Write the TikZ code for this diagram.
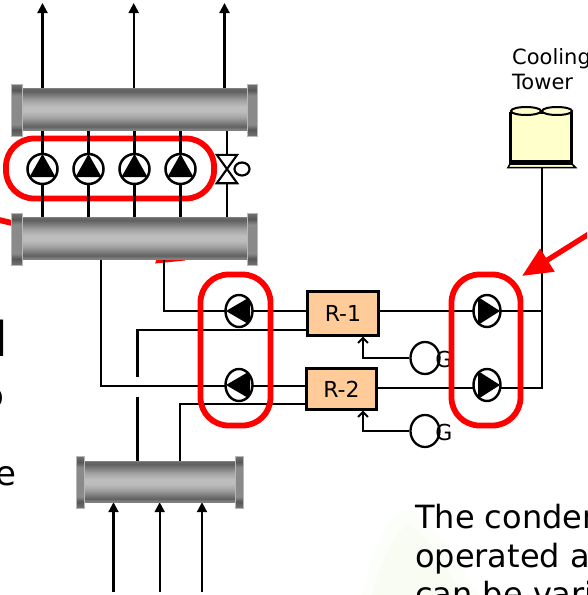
\documentclass[tikz,border=0pt]{standalone}
\usepackage{fontspec}
\setmainfont{DejaVu Sans}
\usetikzlibrary{shapes.geometric,arrows.meta}
\pgfdeclarelayer{pillback}
\pgfdeclarelayer{pipes}
\pgfdeclarelayer{front}
\pgfsetlayers{pillback,pipes,main,front}
\pgfdeclareverticalshading{pipeshade}{100bp}{
 color(0bp)=(black!50); color(25bp)=(black!50); color(26bp)=(black!50); color(29bp)=(black!62);
 color(40bp)=(black!36); color(47bp)=(black!26); color(53bp)=(black!26); color(60bp)=(black!36);
 color(71bp)=(black!62); color(74bp)=(black!60); color(75bp)=(black!50); color(100bp)=(black!50)}
\pgfdeclareverticalshading{flangeshade}{100bp}{
 color(0bp)=(black!55); color(25bp)=(black!55); color(31bp)=(black!66); color(36bp)=(black!46);
 color(64bp)=(black!46); color(69bp)=(black!66); color(75bp)=(black!55); color(100bp)=(black!55)}
\tikzset{
 pipeline/.style={line width=2.1pt,black},
 flow/.style={pipeline,-{Triangle[length=10pt,width=10pt]}},
 redline/.style={draw=red,line width=5.8pt},
 pill/.style={rectangle,redline,rounded corners=28pt,inner sep=0pt},
 header/.style={rectangle,shading=pipeshade,inner sep=0pt,draw=none},
 flange/.style={rectangle,shading=flangeshade,inner sep=0pt,minimum width=10.5pt,draw=black!28,line width=.6pt},
 pumpup/.style={circle,draw,fill=white,line width=2.5pt,minimum size=30pt,inner sep=0pt,
  path picture={\fill[black] (path picture bounding box.center) ++(0,-15) -- ++(13,23) -- ++(-26,0) -- cycle;}},
 pumpleft/.style={ellipse,draw,fill=white,line width=2.4pt,minimum width=27pt,minimum height=32pt,inner sep=0pt,
  path picture={\fill[black] (path picture bounding box.center) ++(-13,0) -- ++(24,-14) -- ++(0,28) -- cycle;}},
 pumpright/.style={ellipse,draw,fill=white,line width=2.4pt,minimum width=27pt,minimum height=32pt,inner sep=0pt,
  path picture={\fill[black] (path picture bounding box.center) ++(13,0) -- ++(-22,-14) -- ++(0,28) -- cycle;}},
 refrig/.style={rectangle,draw,fill=rfill,line width=2.5pt,inner sep=0pt,font=\fontsize{22}{26}\selectfont},
 gen/.style={ellipse,draw,fill=white,line width=2.3pt,minimum width=29pt,minimum height=32pt,inner sep=0pt},
 glabel/.style={font=\fontsize{22}{24}\selectfont,inner sep=0pt},
 caption/.style={font=\fontsize{21}{25}\selectfont,anchor=base west,inner sep=0pt},
 bigtext/.style={font=\fontsize{32}{38}\selectfont,anchor=base west,inner sep=0pt},
 cut/.style={font=\fontsize{34}{38}\selectfont,anchor=base east,inner sep=0pt},
 fan/.style={ellipse,draw,fill=towerfill,line width=2pt,minimum width=30pt,minimum height=8pt,inner sep=0pt},
}
\definecolor{rfill}{HTML}{FFCC99}
\definecolor{towerfill}{HTML}{FFFFCC}
\definecolor{palegreen}{HTML}{FCFEF9}
\definecolor{palegreenb}{HTML}{F8FCF2}
\newcommand{\pageclip}{\clip (0,0) rectangle (587,595);}
\begin{document}
\begin{tikzpicture}[x=1pt,y=-1pt]
\useasboundingbox (0,0) rectangle (587,595);
\pageclip
% faint background
\fill[palegreen] (362,595) .. controls (372,550) and (388,512) .. (405,510) .. controls (425,510) and (455,555) .. (478,595) -- cycle;
\fill[palegreenb] (372,595) .. controls (382,560) and (395,530) .. (408,526) .. controls (425,530) and (445,565) .. (462,595) -- cycle;
% headers
\node[header,minimum width=226pt,minimum height=42pt] (h1) at (135,109) {};
\node[flange,minimum height=52pt] (h1l) at (17,110) {};
\node[flange,minimum height=52pt] (h1r) at (252.5,110) {};
\node[header,minimum width=226pt,minimum height=42pt] (h2) at (135,238) {};
\node[flange,minimum height=52pt] (h2l) at (17,239) {};
\node[flange,minimum height=52pt] (h2r) at (252.5,239) {};
\node[header,minimum width=152pt,minimum height=41pt] (h3) at (160,481.5) {};
\node[flange,minimum width=8pt,minimum height=52pt] (h3l) at (80.5,482) {};
\node[flange,minimum width=8pt,minimum height=52pt] (h3r) at (239,482) {};
% pumps
\foreach \n/\x in {p1/42.5,p2/88.5,p3/134.5,p4/180.5}
  \node[pumpup] (\n) at (\x,169) {};
\node[pumpleft] (pa) at (239,311) {};
\node[pumpleft] (pb) at (239,385) {};
\node[pumpright] (pc) at (487,311) {};
\node[pumpright] (pd) at (487,385) {};
% valve
\node[minimum width=20pt,minimum height=28pt,inner sep=0pt] (v) at (227,169) {};
\draw[pipeline,fill=white] (v.north west) -- (v.north east) -- (v.south west) -- (v.south east) -- cycle;
\node[ellipse,draw,fill=white,line width=2.2pt,minimum width=15pt,minimum height=13pt,inner sep=0pt] (vo) at (242,169) {};
% refrigerators
\node[refrig,minimum width=71pt,minimum height=44pt] (r1) at (343,313.5) {R-1};
\node[refrig,minimum width=70pt,minimum height=41pt] (r2) at (341.5,389) {R-2};
% generators
\node[gen] (g1) at (425,358) {};
\node[glabel] (g1t) at (444,359) {G};
\node[gen] (g2) at (425,431) {};
\node[glabel] (g2t) at (444,432) {G};
% tower
\node[rectangle,draw,fill=towerfill,line width=2.2pt,minimum width=61pt,minimum height=50pt,inner sep=0pt] (tower) at (541,138) {};
\node[fan] (fa) at (526,111) {};
\node[fan] (fb) at (557,111) {};
\fill[black] (509,160) rectangle (573,164);
\draw[line width=1.5pt,fill=towerfill] (510,164) -- (572,164) -- (575.5,167.5) -- (508,167.5) -- cycle;
\coordinate (tbase) at (542,168);
% coordinates where pipes meet things
\coordinate (a1) at (42.5,3);
\coordinate (a2) at (133.7,3);
\coordinate (a3) at (224.5,3);
\coordinate (i1) at (113.5,592);
\coordinate (i2) at (159.7,592);
\coordinate (i3) at (202,592);
\coordinate (c1) at (164,311);
\coordinate (c2) at (101,386);
\coordinate (gapb) at (137.5,397);
\coordinate (gapt) at (137.5,377);
\coordinate (c3) at (137.5,330);
\coordinate (c4) at (180,404);
\coordinate (e1) at (542,311);
\coordinate (e2) at (542,388);
\coordinate (s1) at (363,336.5);
\coordinate (s2) at (363,410.5);
\begin{pgfonlayer}{pillback}
 \begin{scope}
 \pageclip
 \node[pill,minimum width=208pt,minimum height=60pt] (pilltop) at (110,168.5) {};
 \draw[redline] (-5,219) -- (16,224);
 \fill[red] (155,263.5) -- (185,260.5) -- (185,256) -- (158,256) -- cycle;
 \end{scope}
\end{pgfonlayer}
\begin{pgfonlayer}{pipes}
 \begin{scope}
 \pageclip
 \draw[flow] (h1.north -| a1) -- (a1);
 \draw[flow] (h1.north -| a2) -- (a2);
 \draw[flow] (h1.north -| a3) -- (a3);
 \draw[flow] (i1) -- (h3.south -| i1);
 \draw[flow] (i2) -- (h3.south -| i2);
 \draw[flow] (i3) -- (h3.south -| i3);
 \foreach \n in {p1,p2,p3,p4} \draw[pipeline] (h1.south -| \n) -- (h2.north -| \n);
 \draw[pipeline] (h1.south -| v) -- (v.north);
 \draw[pipeline] (v.south) -- (h2.north -| v);
 \draw[pipeline] (h2.south -| c1) -- (c1) -- (r1.west |- c1);
 \draw[pipeline] (h2.south -| c2) -- (c2) -- (r2.west |- c2);
 \draw[pipeline] (h3.north -| gapb) -- (gapb);
 \draw[pipeline] (gapt) -- (c3) -- (r1.west |- c3);
 \draw[pipeline] (h3.north -| c4) -- (c4) -- (r2.west |- c4);
 \draw[pipeline] (r1.east |- e1) -- (e1);
 \draw[pipeline] (r2.east |- e2) -- (e2) -- (tbase);
 \draw[pipeline,-{Straight Barb[length=5pt,width=10pt]}] (g1) -| (s1);
 \draw[pipeline,-{Straight Barb[length=5pt,width=10pt]}] (g2) -| (s2);
 \end{scope}
\end{pgfonlayer}
\begin{pgfonlayer}{front}
 \begin{scope}
 \pageclip
 \node[pill,minimum width=70pt,minimum height=151pt] (pillL) at (235.5,350) {};
 \node[pill,minimum width=69pt,minimum height=151pt] (pillR) at (486,350) {};
 \draw[draw=red,line width=5.3pt,-{Triangle[length=30pt,width=26pt]}] (600,227) -- (522,276);
 \node[caption] (cap) at (512,64) {Cooling};
 \node[caption] (cap2) at (512,89) {Tower};
 \node[bigtext] (t1) at (415,528) {The conden};
 \node[bigtext] (t2) at (415,567) {operated a};
 \node[bigtext] (t3) at (415,605) {can be vari};
 \node[font=\fontsize{48}{50}\selectfont,anchor=base east,inner sep=0pt] (l1) at (8,356) {d};
 \node[cut] (l2) at (5,407) {o};
 \node[cut] (l3) at (17,485) {e};
 \end{scope}
\end{pgfonlayer}
\end{tikzpicture}
\end{document}
